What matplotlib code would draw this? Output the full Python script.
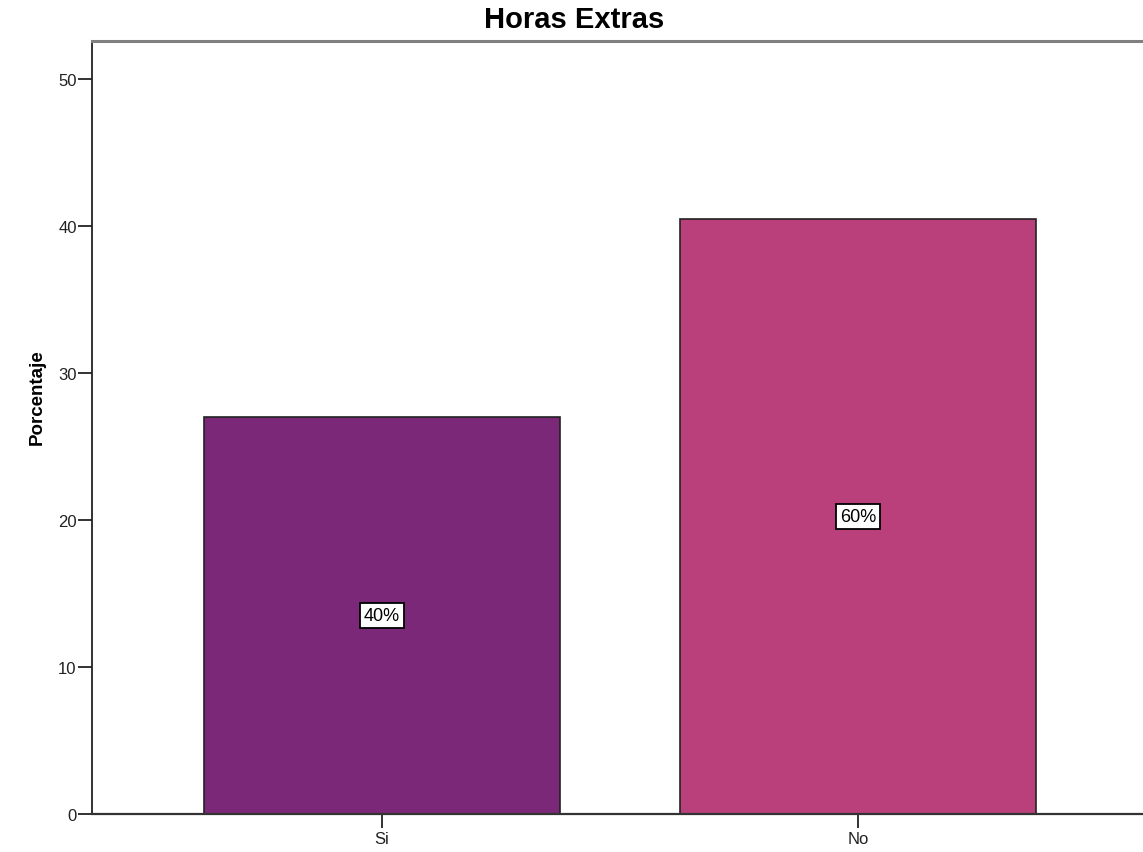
from matplotlib import pyplot as plt

categories = ['Si', 'No']
values = [27.0, 40.5]
labels = ['40%', '60%']
colors = ['#7b2879', '#ba407b']

plt.rcParams['font.family'] = ['Liberation Sans', 'DejaVu Sans']

fig = plt.figure(figsize=(11.43, 8.53), dpi=100)
ax = fig.add_axes([92 / 1143, 38 / 853, 1056 / 1143, 773 / 853])

x = list(range(len(categories)))
ax.bar(x, values, width=0.748, color=colors, edgecolor='#222222', linewidth=1.2, zorder=2)

for xi, v, lab in zip(x, values, labels):
    ax.text(xi, v / 2, lab, ha='center', va='center', fontsize=13,
            bbox=dict(boxstyle='square,pad=0.2', facecolor='white', edgecolor='black', linewidth=1.3),
            zorder=3)

ax.set_xlim(-0.609, 1.609)
ax.set_ylim(0, 52.6)
ax.set_yticks([0, 10, 20, 30, 40, 50])
ax.set_xticks(x)
ax.set_xticklabels(categories)
ax.tick_params(axis='both', direction='out', length=10, width=1.3, labelsize=12, colors='#222222')
ax.tick_params(axis='x', pad=2)
ax.tick_params(axis='y', pad=1)

ax.spines['left'].set_color('#222222')
ax.spines['bottom'].set_color('#333333')
ax.spines['left'].set_linewidth(1.3)
ax.spines['bottom'].set_linewidth(1.6)
ax.spines['top'].set_color('#808080')
ax.spines['top'].set_linewidth(2.2)
ax.spines['right'].set_visible(False)

ax.set_ylabel('Porcentaje', fontsize=13.5, fontweight='bold')
ax.yaxis.set_label_coords(-0.044, 0.54)
ax.set_title('Horas Extras', fontsize=21, fontweight='bold', x=0.457, pad=10)

fig.savefig('out.png', dpi=100)
